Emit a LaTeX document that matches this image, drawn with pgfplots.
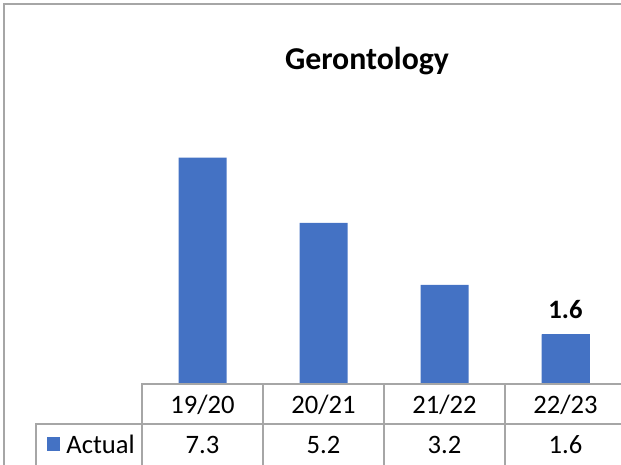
\documentclass[border=0pt]{standalone}
\usepackage{pgfplots}
\pgfplotsset{compat=1.18}
\usepackage{fontspec}
\setmainfont{Carlito}
\definecolor{barblue}{HTML}{4472C4}
\definecolor{linegray}{HTML}{A6A6A6}

% values per season
\pgfplotstableread{
x y
0 7.3
1 5.2
2 3.2
3 1.6
}\gerontology

\begin{document}
\begin{tikzpicture}
% image is 621 x 465 px, 1px = 0.5pt, origin top left
\useasboundingbox (0,0) rectangle (310.5pt,-232.5pt);
\clip (0,0) rectangle (310.5pt,-232.5pt);

\begin{axis}[
    at={(71pt,-192pt)},
    anchor=south west,
    scale only axis,
    width=242pt,
    height=124pt,
    xmin=-0.5, xmax=3.5,
    ymin=0, ymax=8,
    axis line style={draw=none},
    tick style={draw=none},
    ytick=\empty,
    xtick=data,
    xticklabels={19/20,20/21,21/22,22/23},
    xticklabel style={anchor=base, yshift=-14.5pt, font=\fontsize{13.3}{15}\selectfont},
    clip=false
]
\addplot[ybar, bar width=24pt, bar shift=0pt, fill=barblue, draw=none]
    table[x=x, y=y] {\gerontology};
% only the last season carries a data label
\addplot[ybar, bar width=24pt, bar shift=0pt, fill=barblue, draw=none,
    nodes near coords,
    nodes near coords style={anchor=center, yshift=12.5pt, black,
        font=\fontsize{13.3}{15}\selectfont\bfseries,
        /pgf/number format/assume math mode=true,
        /pgf/number format/fixed, /pgf/number format/precision=1}]
    coordinates {(3,1.6)};
\end{axis}

\begin{scope}[x=0.5pt,y=-0.5pt]
% chart frame
\draw[linegray, line width=1pt] (3.5,470) -- (3.5,4.5) -- (640,4.5);
\node[anchor=base, font=\fontsize{15.9}{18}\selectfont\bfseries] at (367,70) {Gerontology};

% data table grid
\draw[linegray, line width=0.75pt] (142,470) -- (142,384) -- (640,384);
\draw[linegray, line width=0.75pt] (36,470) -- (36,424) -- (640,424);
\foreach \xx in {263,384,505} \draw[linegray, line width=0.75pt] (\xx,384) -- (\xx,470);

% legend key and value row
\fill[barblue] (47,437) rectangle (59.5,451);
\node[anchor=base west, inner sep=0pt, font=\fontsize{13.3}{15}\selectfont] at (66,453) {Actual};
\foreach \xx/\v in {202.5/7.3,323.5/5.2,444.5/3.2,565.5/1.6}
    \node[anchor=base, font=\fontsize{13.3}{15}\selectfont] at (\xx,453) {\v};
\end{scope}
\end{tikzpicture}
\end{document}
